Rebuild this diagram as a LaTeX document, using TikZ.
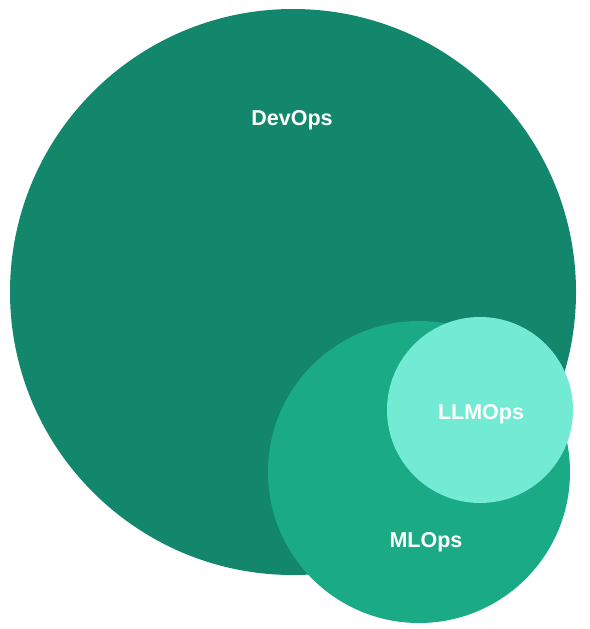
\documentclass[tikz,border=0pt]{standalone}
\usepackage{fontspec}
\setmainfont{Liberation Sans}
\definecolor{devgreen}{RGB}{18,135,108}
\definecolor{mlgreen}{RGB}{27,170,134}
\definecolor{llmgreen}{RGB}{114,234,212}
\tikzset{
  opslabel/.style={text=white,font=\bfseries\fontsize{21.5}{25}\selectfont,inner sep=0pt}
}
\begin{document}
\begin{tikzpicture}[x=1pt,y=-1pt]
	\useasboundingbox (0,0) rectangle (589,629);
	\fill[devgreen] (293,292) circle (283);
	\fill[mlgreen] (419,472) circle (151);
	\fill[llmgreen] (480,410) circle (93);
	\node[opslabel] at (292,120) (devops) {DevOps};
	\node[opslabel] at (481,414) (llmops) {LLMOps};
	\node[opslabel] at (426,542) (mlops) {MLOps};
\end{tikzpicture}
\end{document}
